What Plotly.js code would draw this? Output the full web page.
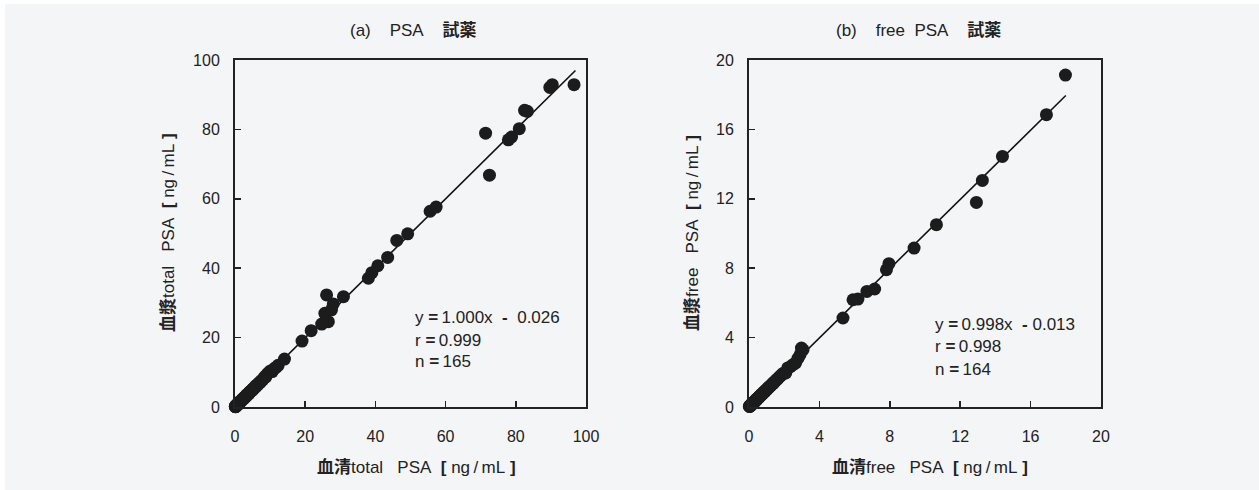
<!DOCTYPE html>
<html>
<head>
<meta charset="utf-8">
<script src="https://cdn.plot.ly/plotly-3.0.1.min.js"></script>
<style>
html,body{margin:0;padding:0;background:#ffffff;}
#chart{position:absolute;left:5px;top:4px;width:1254px;height:486px;}
</style>
</head>
<body>
<div id="chart"></div>
<script>
// (a) total PSA: serum (x) vs plasma (y)
const totalSerum = [
  0.1,0.1,0.2,0.2,0.3,0.3,0.4,0.4,0.5,0.5,0.6,0.6,0.7,0.7,0.8,0.8,0.9,0.9,1.0,1.0,
  1.1,1.1,1.2,1.2,1.3,1.4,1.5,1.5,1.6,1.7,1.8,1.9,2.0,2.0,2.1,2.2,2.3,2.4,2.5,2.6,
  2.7,2.8,3.0,3.1,3.2,3.3,3.5,3.6,3.8,4.0,4.1,4.3,4.5,4.7,4.9,5.1,5.3,5.6,5.9,6.2,
  6.5,6.8,7.1,7.5,7.9,8.3,8.8,9.2,9.6,10.1,10.6,11.2,11.7,12.3,14.1,0.15,0.25,0.35,0.45,0.55,
  0.65,0.75,0.85,0.95,1.05,1.25,1.45,1.65,1.85,2.15,2.45,2.75,3.4,3.9,4.4,5.0,5.5,6.0,7.3,8.6,
  19.1,21.7,24.7,25.6,26.6,27.5,28.0,26.1,30.9,38.0,39.0,40.7,43.5,46.1,49.2,55.6,57.3,
  71.4,72.5,77.9,78.8,81.0,82.5,83.3,89.7,90.4,96.6
];
const totalPlasma = [
  0.1,0.2,0.2,0.1,0.3,0.4,0.4,0.3,0.5,0.6,0.6,0.5,0.7,0.8,0.8,0.7,0.9,1.0,1.0,0.9,
  1.1,1.2,1.2,1.1,1.3,1.4,1.5,1.6,1.6,1.7,1.8,1.9,2.0,2.1,2.1,2.2,2.3,2.4,2.6,2.5,
  2.7,2.8,2.9,3.2,3.1,3.3,3.4,3.7,3.8,3.9,4.2,4.3,4.6,4.7,4.8,5.2,5.2,5.6,5.8,6.3,
  6.4,6.9,7.0,7.6,7.8,8.4,8.7,9.5,9.9,10.4,10.2,11.1,11.4,12.0,13.8,0.2,0.2,0.4,0.4,0.6,
  0.6,0.8,0.8,1.0,1.0,1.3,1.4,1.7,1.8,2.2,2.4,2.8,3.5,3.8,4.5,4.9,5.6,6.1,7.2,8.8,
  19.0,22.0,23.9,27.0,24.6,28.0,29.7,32.3,31.8,37.1,38.7,40.7,43.1,48.0,49.9,56.4,57.6,
  78.9,66.8,77.0,77.8,80.2,85.5,85.2,92.1,92.9,92.9
];
const totalFitX = [0, 97];
const totalSlope = 1.000;
const totalIntercept = -0.026;

// (b) free PSA: serum (x) vs plasma (y)
const freeSerum = [
  0.02,0.04,0.05,0.07,0.08,0.10,0.11,0.12,0.14,0.15,0.17,0.18,0.20,0.21,0.23,0.25,0.26,0.28,0.30,0.32,
  0.34,0.36,0.38,0.40,0.42,0.44,0.46,0.48,0.50,0.53,0.55,0.58,0.60,0.63,0.66,0.69,0.72,0.75,0.78,0.82,
  0.85,0.89,0.93,0.97,1.01,1.05,1.10,1.15,1.20,1.25,1.30,1.36,1.42,1.48,1.55,1.62,1.70,1.78,1.86,1.95,
  2.09,2.20,2.35,2.50,2.65,2.78,2.90,2.98,3.07,0.06,0.13,0.19,0.27,0.35,0.45,0.57,0.70,0.88,1.12,1.40,
  5.34,5.91,6.19,6.70,7.14,7.81,7.95,9.38,10.65,12.92,13.26,14.40,16.90,17.98
];
const freePlasma = [
  0.03,0.03,0.06,0.06,0.09,0.09,0.12,0.11,0.15,0.14,0.18,0.17,0.21,0.20,0.24,0.24,0.27,0.27,0.31,0.30,
  0.35,0.34,0.39,0.38,0.43,0.42,0.47,0.46,0.51,0.52,0.56,0.57,0.61,0.62,0.67,0.68,0.73,0.74,0.79,0.81,
  0.86,0.88,0.94,0.96,1.02,1.04,1.11,1.14,1.21,1.24,1.31,1.35,1.43,1.47,1.56,1.61,1.71,1.77,1.87,1.94,
  1.96,2.25,2.32,2.44,2.54,2.80,3.01,3.40,3.30,0.05,0.14,0.18,0.28,0.34,0.46,0.56,0.71,0.87,1.13,1.39,
  5.13,6.18,6.22,6.66,6.80,7.91,8.26,9.16,10.51,11.79,13.06,14.44,16.85,19.13
];
const freeFitX = [0, 18];
const freeSlope = 0.998;
const freeIntercept = -0.013;

const totalTicks = [0, 20, 40, 60, 80, 100];
const freeTicks = [0, 4, 8, 12, 16, 20];

const FONT = 'Liberation Sans, Arial, "Noto Sans CJK JP", sans-serif';
const dotColor = '#1c1c1c';

const traces = [
  {x: totalFitX, y: totalFitX.map(v => totalSlope * v + totalIntercept), xaxis: 'x', yaxis: 'y',
   mode: 'lines', line: {color: '#111', width: 1.6}, hoverinfo: 'skip', cliponaxis: false},
  {x: totalSerum, y: totalPlasma, xaxis: 'x', yaxis: 'y', mode: 'markers', cliponaxis: false,
   marker: {size: 13, color: dotColor, line: {width: 0}}},
  {x: freeFitX, y: freeFitX.map(v => freeSlope * v + freeIntercept), xaxis: 'x2', yaxis: 'y2',
   mode: 'lines', line: {color: '#111', width: 1.6}, hoverinfo: 'skip', cliponaxis: false},
  {x: freeSerum, y: freePlasma, xaxis: 'x2', yaxis: 'y2', mode: 'markers', cliponaxis: false,
   marker: {size: 13, color: dotColor, line: {width: 0}}}
];

function axisStyle(domain, range, ticks, anchor, standoff) {
  return {
    domain: domain, range: range, anchor: anchor,
    tickmode: 'array', tickvals: ticks, ticktext: ticks.map(String),
    ticks: 'inside', ticklen: 6, tickwidth: 1.5, tickcolor: '#222',
    showline: true, linecolor: '#222', linewidth: 2, mirror: true,
    showgrid: false, zeroline: false, fixedrange: true,
    tickfont: {family: FONT, size: 16, color: '#222'},
    ticklabelstandoff: standoff
  };
}

const sp = '\u00a0';
const hs = '\u2009';
const s = n => sp.repeat(n);
const annFont = {family: FONT, size: 17, color: '#222'};
const unit = s(2) + '<b>[</b>' + sp + 'ng' + hs + '/' + hs + 'mL' + sp + '<b>]</b>';
const annotations = [
  {xref: 'paper', yref: 'paper', x: 0.3254, y: 0.9465, showarrow: false, xanchor: 'center', yanchor: 'middle',
   text: '(a)' + s(4) + 'PSA' + s(4) + '<b>試薬</b>', font: annFont},
  {xref: 'paper', yref: 'paper', x: 0.7281, y: 0.9465, showarrow: false, xanchor: 'center', yanchor: 'middle',
   text: '(b)' + s(4) + 'free' + s(2) + 'PSA' + s(4) + '<b>試薬</b>', font: annFont},
  {xref: 'paper', yref: 'paper', x: 0.3278, y: 0.0453, showarrow: false, xanchor: 'center', yanchor: 'middle',
   text: '<b>血清</b>total' + s(3) + 'PSA' + unit, font: annFont},
  {xref: 'paper', yref: 'paper', x: 0.7376, y: 0.0453, showarrow: false, xanchor: 'center', yanchor: 'middle',
   text: '<b>血清</b>free' + s(3) + 'PSA' + unit, font: annFont},
  {xref: 'paper', yref: 'paper', x: 0.1300, y: 0.5288, showarrow: false, xanchor: 'center', yanchor: 'middle', textangle: -90,
   text: '<b>血漿</b>total' + s(3) + 'PSA' + unit, font: annFont},
  {xref: 'paper', yref: 'paper', x: 0.5478, y: 0.5288, showarrow: false, xanchor: 'center', yanchor: 'middle', textangle: -90,
   text: '<b>血漿</b>free' + s(3) + 'PSA' + unit, font: annFont},
  // regression stats (a)
  {xref: 'x', yref: 'y', x: 50.7, y: 25.7, showarrow: false, xanchor: 'left', yanchor: 'middle',
   text: 'y' + sp + '<b>=</b>' + hs + '1.000x' + s(2) + '<b>-</b>' + s(2) + '0.026', font: annFont},
  {xref: 'x', yref: 'y', x: 50.7, y: 19.3, showarrow: false, xanchor: 'left', yanchor: 'middle',
   text: 'r' + sp + '<b>=</b>' + hs + '0.999', font: annFont},
  {xref: 'x', yref: 'y', x: 50.7, y: 13.0, showarrow: false, xanchor: 'left', yanchor: 'middle',
   text: 'n' + sp + '<b>=</b>' + hs + '165', font: annFont},
  // regression stats (b)
  {xref: 'x2', yref: 'y2', x: 10.44, y: 4.74, showarrow: false, xanchor: 'left', yanchor: 'middle',
   text: 'y' + sp + '<b>=</b>' + hs + '0.998x' + s(2) + '<b>-</b>' + sp + '0.013', font: annFont},
  {xref: 'x2', yref: 'y2', x: 10.44, y: 3.48, showarrow: false, xanchor: 'left', yanchor: 'middle',
   text: 'r' + sp + '<b>=</b>' + hs + '0.998', font: annFont},
  {xref: 'x2', yref: 'y2', x: 10.44, y: 2.15, showarrow: false, xanchor: 'left', yanchor: 'middle',
   text: 'n' + sp + '<b>=</b>' + hs + '164', font: annFont}
];

const yDom = [0.1708, 0.8848];
const layout = {
  width: 1254, height: 486,
  margin: {l: 0, r: 0, t: 0, b: 0, pad: 0},
  paper_bgcolor: '#f4f5f7', plot_bgcolor: '#f4f5f7',
  showlegend: false,
  font: {family: FONT, color: '#222'},
  xaxis: axisStyle([0.1834, 0.4633], [0, 100], totalTicks, 'y', 14),
  yaxis: axisStyle(yDom, [0, 100], totalTicks, 'x', 10),
  xaxis2: axisStyle([0.5933, 0.8740], [0, 20], freeTicks, 'y2', 14),
  yaxis2: axisStyle(yDom, [0, 20], freeTicks, 'x2', 10),
  annotations: annotations
};

Plotly.newPlot('chart', traces, layout, {displayModeBar: false, staticPlot: true});
</script>
</body>
</html>
